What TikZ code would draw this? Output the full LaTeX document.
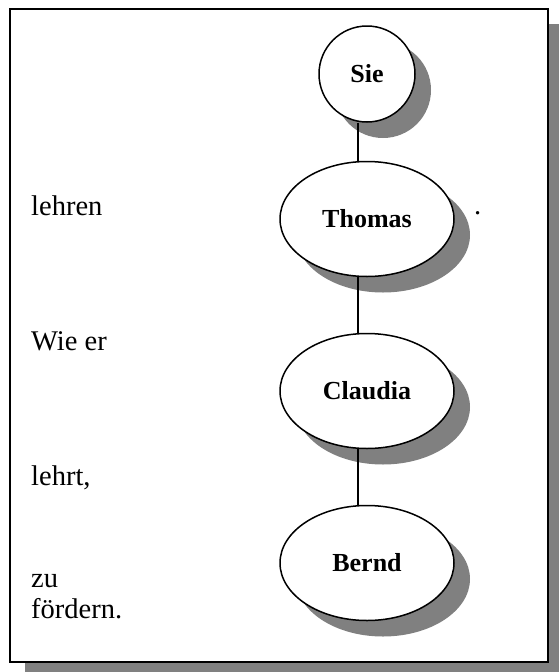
\documentclass[tikz,border=0pt]{standalone}
\usepackage{fontspec}
\setmainfont{Liberation Serif}
\usetikzlibrary{shapes.geometric, shadows}
\definecolor{shadowgray}{RGB}{128,128,128}

\begin{document}
\begin{tikzpicture}[x = 1pt, y = -1pt, node distance = 172pt,
    person/.style = {ellipse, draw, line width = 1.5pt, fill = white, inner sep = 0pt,
      minimum width = 174pt, minimum height = 115pt, font = \fontsize{26}{30}\selectfont\bfseries,
      drop shadow = {shadow xshift = 16pt, shadow yshift = -16pt, fill = shadowgray, opacity = 1}},
    word/.style = {anchor = base west, inner sep = 0pt, font = \fontsize{28.5}{31}\selectfont},
    link/.style = {line width = 1.3pt}]
      \useasboundingbox (0,0) rectangle (559,672);
      \fill[shadowgray] (25,24) rectangle (559,672);
      \draw[line width = 2pt, fill = white] (9.5,8.5) rectangle (548,662);

      \node[person, circle, minimum size = 96pt] (sie) at (367,74) {Sie};
      \node[person] (thomas) at (367,219) {Thomas};
      \node[person] (claudia) [below of = thomas] {Claudia};
      \node[person] (bernd) [below of = claudia] {Bernd};

      \draw[link] ([xshift = -9pt]sie.south) -- ([xshift = -9pt]thomas.north);
      \draw[link] ([xshift = -9pt]thomas.south) -- ([xshift = -9pt]claudia.north);
      \draw[link] ([xshift = -9pt]claudia.south) -- ([xshift = -9pt]bernd.north);

      \node[word] (lehren) at (31,215) {lehren};
      \node[word] (wieer) at (31,350) {Wie er};
      \node[word] (lehrt) at (31,485) {lehrt,};
      \node[word] (zu) at (31,587) {zu};
      \node[word] (foerdern) at (31,618) {fördern.};
      \node[word] (punkt) at (474,214) {.};
    \end{tikzpicture}
\end{document}
